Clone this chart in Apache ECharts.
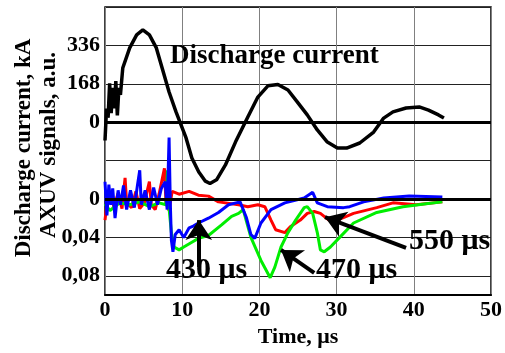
<!DOCTYPE html>
<html>
<head>
<meta charset="utf-8">
<script src="https://cdn.jsdelivr.net/npm/echarts@6/dist/echarts.min.js"></script>
<style>
  html, body { margin: 0; padding: 0; background: #fff; }
  #chart { width: 505px; height: 353px; }
</style>
</head>
<body>
<div id="chart"></div>
<script>
// time in us, discharge current in kA
const current = [
  [0, -80], [0.2, 60], [0.4, 20], [0.6, 170], [0.8, 40], [1.0, 150], [1.2, 60],
  [1.4, 180], [1.6, 30], [1.8, 150], [2.0, 120], [2.3, 237], [3.2, 325], [4.1, 382],
  [4.9, 404], [5.75, 382], [6.65, 325], [7.4, 237], [8.3, 132], [9.2, 45], [9.85, -12],
  [10.5, -69], [11.25, -157], [12.15, -218], [13.0, -258], [13.6, -268], [14.45, -252],
  [15.6, -187], [16.9, -87], [18.5, 23], [19.8, 110], [21.1, 159], [22.4, 165],
  [23.7, 141], [24.9, 89], [26.2, 32], [27.5, -34], [28.8, -87], [30.1, -113],
  [31.3, -113], [33.0, -91], [34.8, -43], [36.1, 18], [37.3, 45], [39.0, 62],
  [40.7, 67], [41.9, 53], [43.2, 32], [43.9, 18]
];

// AXUV signals (a.u., plotted downward)
const axuvRed = [
  [0, 0.022], [0.25, 0.005], [0.64, -0.008], [1.15, 0.008], [1.7, -0.006], [2.2, 0.01],
  [2.6, -0.022], [2.8, 0.004], [3.45, 0.009], [4.0, -0.008], [4.5, 0.01], [5.1, 0.004],
  [5.75, -0.018], [6.0, 0.006], [6.5, 0.011], [7.0, -0.005], [7.7, -0.032], [7.9, 0.004],
  [8.3, 0.012], [8.7, -0.008], [9.6, -0.005], [10.9, -0.008], [12.1, -0.004],
  [13.4, -0.003], [14.7, 0.003], [17.3, 0.006], [18.5, 0.008], [19.8, 0.006],
  [20.7, 0.008], [21.5, 0.022], [22.1, 0.032], [23.3, 0.035], [24.0, 0.029],
  [25.3, 0.022], [26.2, 0.015], [27.1, 0.013], [27.9, 0.015], [29.0, 0.022],
  [30.1, 0.022], [32.2, 0.015], [35.2, 0.009], [37.3, 0.004], [40.3, 0.006], [43.7, 0.003]
];
const axuvGreen = [
  [0, 0.005], [0.64, 0.012], [1.9, 0.004], [3.2, 0.006], [4.5, 0.003], [5.75, 0.008],
  [7.0, 0.004], [7.9, 0.006], [8.1, -0.03], [8.3, 0.01], [8.6, 0.035], [8.95, 0.05],
  [9.6, 0.053], [10.2, 0.05], [11.25, 0.045], [12.1, 0.041], [13.4, 0.038], [15.1, 0.027],
  [16.4, 0.018], [17.3, 0.015], [17.9, 0.011], [18.9, 0.04], [20.2, 0.064], [21.4, 0.082],
  [22.0, 0.071], [22.8, 0.05], [23.7, 0.035], [24.7, 0.022], [25.8, 0.009], [26.2, 0.008],
  [26.9, 0.015], [27.5, 0.035], [27.9, 0.053], [28.4, 0.055], [29.2, 0.05], [30.4, 0.04],
  [32.2, 0.025], [35.2, 0.014], [38.6, 0.008], [41.6, 0.005], [43.7, 0.003]
];
const axuvBlue = [
  [0, -0.018], [0.25, 0.017], [0.5, -0.015], [0.75, 0.006], [1.0, -0.011], [1.3, 0.02],
  [1.7, -0.009], [2.0, 0.006], [2.4, -0.014], [2.8, 0.011], [3.3, -0.009], [3.8, 0.009],
  [4.2, -0.014], [4.5, -0.03], [4.7, 0.006], [5.2, -0.009], [5.75, 0.011], [6.3, -0.012],
  [6.8, 0.006], [7.3, -0.011], [7.8, -0.018], [8.05, 0.011], [8.3, -0.064], [8.45, 0.001],
  [8.6, 0.043], [8.8, 0.055], [9.1, 0.037], [9.6, 0.032], [10.2, 0.04], [10.9, 0.03],
  [11.5, 0.028], [12.1, 0.025], [13.4, 0.02], [14.7, 0.014], [16.0, 0.006], [17.5, 0.003],
  [18.3, 0.019], [18.9, 0.037], [19.4, 0.041], [20.2, 0.025], [21.5, 0.011], [23.3, 0.004],
  [25.8, -0.001], [26.9, -0.007], [27.5, 0.004], [28.8, 0.008], [30.9, 0.009],
  [31.7, 0.008], [33.5, 0.003], [36.1, -0.001], [39.4, -0.003], [43.7, -0.002]
];

const currentTicks = [0, 168, 336];

// arrows: [tail, head] in (time, AXUV) coordinates
const arrows = [
  [[12.15, 0.071], [12.15, 0.022]],
  [[27.1, 0.077], [22.8, 0.053]],
  [[39.0, 0.051], [28.5, 0.019]]
];

const FONT = "Liberation Serif";
const chart = echarts.init(document.getElementById("chart"));

const labelStyle = {
  color: "#000",
  fontFamily: FONT,
  fontWeight: "bold",
  fontSize: 22
};

chart.setOption({
  animation: false,
  grid: {
    left: 105,
    right: 9,
    top: 7,
    bottom: 58,
    show: true,
    borderColor: "#000",
    borderWidth: 1.5
  },
  xAxis: {
    type: "value",
    min: 0,
    max: 50,
    interval: 10,
    axisLine: { show: true, onZero: false, lineStyle: { color: "#000", width: 2 } },
    axisTick: { show: false },
    splitLine: { show: true, lineStyle: { color: "#808080", width: 1 } },
    axisLabel: Object.assign({ margin: 4 }, labelStyle),
    name: "Time, μs",
    nameLocation: "middle",
    nameGap: 31,
    nameTextStyle: labelStyle
  },
  yAxis: [
    {
      // discharge current
      type: "value",
      min: -756,
      max: 504,
      position: "left",
      axisLine: { show: false },
      axisTick: { show: false },
      splitLine: { show: false },
      axisLabel: Object.assign({ margin: 5, customValues: currentTicks }, labelStyle)
    },
    {
      // AXUV signals, downward
      type: "value",
      inverse: true,
      min: -0.2,
      max: 0.1,
      interval: 0.04,
      position: "left",
      axisLine: { show: false },
      axisTick: { show: false },
      splitLine: { show: true, lineStyle: { color: "#222", width: 1 } },
      axisLabel: Object.assign({
        margin: 5,
        formatter: function (v) {
          if (v < -1e-9) return "";
          return String(Math.round(v * 100) / 100).replace(".", ",");
        }
      }, labelStyle)
    }
  ],
  series: [
    {
      name: "red",
      type: "line",
      yAxisIndex: 1,
      data: axuvRed,
      showSymbol: false,
      lineStyle: { color: "#ff0000", width: 3 }
    },
    {
      name: "green",
      type: "line",
      yAxisIndex: 1,
      data: axuvGreen,
      showSymbol: false,
      lineStyle: { color: "#00ee00", width: 3 }
    },
    {
      name: "blue",
      type: "line",
      yAxisIndex: 1,
      data: axuvBlue,
      showSymbol: false,
      lineStyle: { color: "#0000ff", width: 3 },
      markLine: {
        silent: true,
        symbol: "none",
        label: { show: false },
        lineStyle: { color: "#000", width: 3, type: "solid" },
        data: [{ yAxis: 0 }]
      }
    },
    {
      name: "current",
      type: "line",
      yAxisIndex: 0,
      data: current,
      showSymbol: false,
      lineStyle: { color: "#000", width: 3.5 },
      markLine: {
        silent: true,
        symbol: "none",
        label: { show: false },
        lineStyle: { color: "#000", width: 3, type: "solid" },
        data: [{ yAxis: 0 }]
      }
    },
    {
      // annotation arrows
      name: "arrows",
      type: "line",
      yAxisIndex: 1,
      data: [],
      markLine: {
        silent: true,
        symbol: ["none", "arrow"],
        symbolSize: 20,
        z: 20,
        label: { show: false },
        lineStyle: { color: "#000", width: 4, type: "solid", opacity: 1 },
        itemStyle: { color: "#000" },
        data: arrows.map(a => [{ coord: a[0] }, { coord: a[1] }])
      }
    }
  ],
  graphic: [
    {
      type: "text",
      x: 24, y: 148,
      rotation: Math.PI / 2,
      style: {
        text: "Discharge current, kA",
        font: "bold 23px " + FONT,
        fill: "#000",
        textAlign: "center",
        textVerticalAlign: "middle"
      }
    },
    {
      type: "text",
      x: 49, y: 145,
      rotation: Math.PI / 2,
      style: {
        text: "AXUV signals, a.u.",
        font: "bold 23px " + FONT,
        fill: "#000",
        textAlign: "center",
        textVerticalAlign: "middle"
      }
    },
    {
      type: "text",
      x: 170, y: 70, z: 100,
      style: { text: "Discharge current", font: "bold 27px " + FONT, fill: "#000", textVerticalAlign: "bottom" }
    },
    {
      type: "text",
      x: 166, y: 285, z: 100,
      style: { text: "430 μs", font: "bold 30px " + FONT, fill: "#000", textVerticalAlign: "bottom" }
    },
    {
      type: "text",
      x: 316, y: 285, z: 100,
      style: { text: "470 μs", font: "bold 30px " + FONT, fill: "#000", textVerticalAlign: "bottom" }
    },
    {
      type: "text",
      x: 409, y: 256, z: 100,
      style: { text: "550 μs", font: "bold 30px " + FONT, fill: "#000", textVerticalAlign: "bottom" }
    }
  ]
});
</script>
</body>
</html>
